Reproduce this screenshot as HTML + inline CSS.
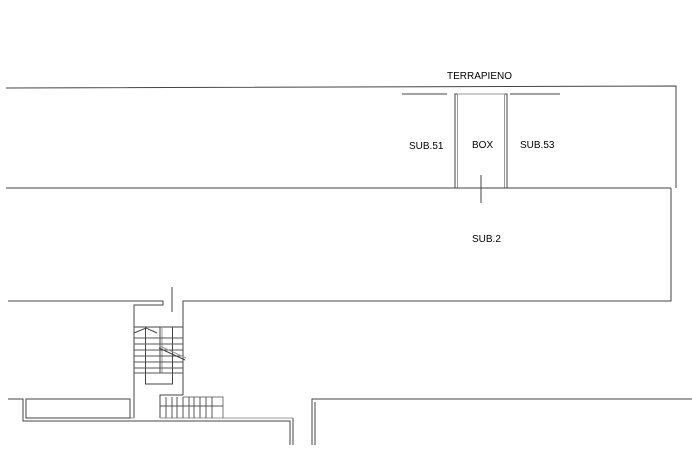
<!DOCTYPE html>
<html><head><style>
html,body{margin:0;padding:0;background:#fff;}
svg{display:block;}
text{font-family:"Liberation Sans",sans-serif;font-size:10px;fill:#000;}
</style></head><body>
<svg width="692" height="463" viewBox="0 0 692 463" xmlns="http://www.w3.org/2000/svg">
<g stroke="#444" stroke-width="1" fill="none">
<!-- top -->
<polyline points="6,88 676,86 676,188"/>
<line x1="402" y1="94" x2="447" y2="94"/>
<line x1="510" y1="94" x2="560" y2="94"/>
<rect x="455" y="94" width="52" height="94"/>
<rect x="457.5" y="94" width="47" height="94" stroke="#999"/>
<line x1="481" y1="175" x2="481" y2="203"/>
<line x1="6" y1="188" x2="671" y2="188"/>
<polyline points="671,188 671,301 183,301 183,305"/>
<polyline points="8,301 163,301 163,305 134,305 134,418"/>
<line x1="172" y1="287" x2="172" y2="312"/>
<line x1="183" y1="305" x2="183" y2="395"/>
<!-- stair 1 -->
<line x1="134" y1="327" x2="183" y2="327"/>
<rect x="145.5" y="327" width="27" height="57"/>
<line x1="160" y1="327" x2="160" y2="373"/>
<line x1="162" y1="327" x2="162" y2="373" stroke="#999"/>
<g stroke="#555">
<line x1="134" y1="338" x2="183" y2="338"/>
<line x1="134" y1="344" x2="183" y2="344"/>
<line x1="134" y1="350" x2="183" y2="350"/>
<line x1="134" y1="356" x2="183" y2="356"/>
<line x1="134" y1="362" x2="183" y2="362"/>
<line x1="134" y1="368" x2="183" y2="368"/>
<line x1="134" y1="373" x2="183" y2="373"/>
</g>
<polyline points="134,333 146,328 157,333"/>
<line x1="159" y1="348" x2="185" y2="360"/>
<line x1="160" y1="346" x2="186" y2="358" stroke="#999"/>
<!-- bottom left -->
<polyline points="8,399 23,399 23,421 290,421 290,445"/>
<polyline points="26,399 26,418 134,418" stroke="#999"/>
<rect x="26" y="399" width="104" height="19"/>
<polyline points="183,395 160,395 160,418"/>
<line x1="293" y1="418" x2="293" y2="445"/>
<line x1="160" y1="418" x2="293" y2="418" stroke="#999"/>
<polyline points="183,397 223,397 223,418" stroke="#777"/>
<g stroke="#555">
<line x1="166" y1="397" x2="166" y2="418"/>
<line x1="172" y1="397" x2="172" y2="418"/>
<line x1="177" y1="397" x2="177" y2="418"/>
<line x1="183" y1="397" x2="183" y2="418"/>
<line x1="189" y1="397" x2="189" y2="418"/>
<line x1="194" y1="397" x2="194" y2="418"/>
<line x1="200" y1="397" x2="200" y2="418"/>
<line x1="206" y1="397" x2="206" y2="418"/>
<line x1="212" y1="397" x2="212" y2="418"/>
<line x1="160" y1="406" x2="223" y2="406"/>
</g>
<polyline points="312,445 312,399 692,399"/>
<line x1="315" y1="402" x2="315" y2="445"/>
</g>
<text x="447" y="79">TERRAPIENO</text>
<text x="409" y="149">SUB.51</text>
<text x="472" y="148">BOX</text>
<text x="520" y="148">SUB.53</text>
<text x="472" y="242">SUB.2</text>
</svg>
</body></html>
